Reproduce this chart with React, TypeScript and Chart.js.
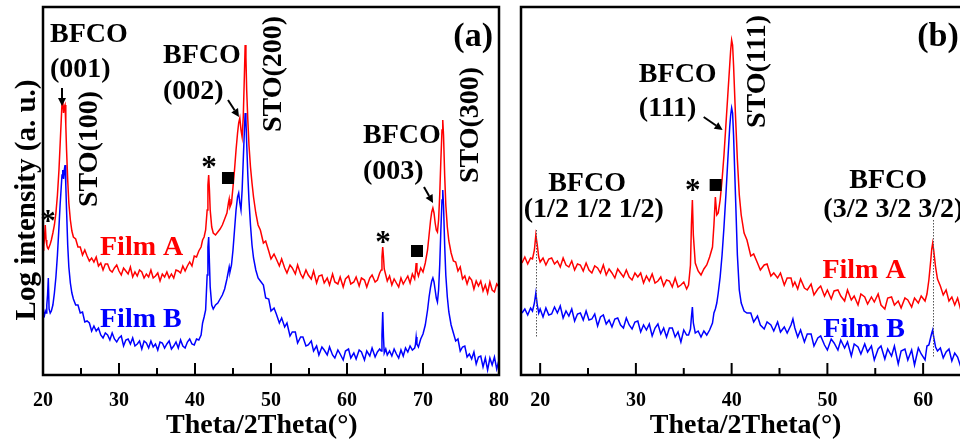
import React, { useEffect, useRef } from "react";
import { Chart, registerables } from "chart.js";
Chart.register(...registerables);

const RED = "rgb(255,0,0)";
const BLUE = "rgb(0,0,255)";
const FONT = '"Liberation Serif", "Times New Roman", serif';

// ---------- Panel (a): 2Theta (deg) ----------
const anglesA = [
  20.0, 20.1, 20.2, 20.3, 20.4, 20.5, 20.6, 20.7, 20.8, 20.95, 21.1,
  21.3, 21.5, 21.7, 21.9, 22.1, 22.25, 22.4, 22.5, 22.6, 22.7, 22.8, 22.9, 23.0, 23.1, 23.25, 23.4, 23.6, 23.8, 24.0,
  24.3, 24.6, 24.9, 25.2, 25.5, 25.8, 26.1, 26.4, 26.7, 27.0, 27.3, 27.6, 27.9, 28.2, 28.5, 28.8, 29.1, 29.4, 29.7, 30.0,
  30.3, 30.6, 30.9, 31.2, 31.5, 31.8, 32.1, 32.4, 32.7, 33.0, 33.3, 33.6, 33.9, 34.2, 34.5, 34.8, 35.1, 35.4, 35.7, 36.0,
  36.3, 36.6, 36.9, 37.2, 37.5, 37.8, 38.1, 38.4, 38.7, 39.0, 39.3, 39.6, 39.9, 40.2, 40.5,
  40.8, 41.0, 41.2, 41.4, 41.6, 41.7, 41.8, 41.9, 42.0, 42.2, 42.4, 42.7, 43.0, 43.3, 43.6, 43.9, 44.2, 44.4, 44.5, 44.6,
  44.8, 45.0, 45.2, 45.4, 45.6, 45.75, 45.9, 46.05, 46.2, 46.35, 46.5, 46.6, 46.7, 46.8, 46.95, 47.1, 47.3, 47.5, 47.7, 48.0, 48.3,
  48.6, 49.0, 49.3, 49.7, 50.0, 50.4, 50.7, 51.1, 51.4, 51.8, 52.1, 52.5, 52.8, 53.2, 53.5, 53.9, 54.2, 54.6, 54.9, 55.3,
  55.6, 56.0, 56.3, 56.7, 57.0, 57.4, 57.7, 58.1, 58.4, 58.8, 59.1, 59.5, 59.8, 60.2, 60.5, 60.9, 61.2, 61.6, 61.9, 62.3,
  62.6, 63.0, 63.3, 63.7, 64.0, 64.3,
  64.5, 64.6, 64.7, 64.8, 64.9, 65.1, 65.3,
  65.6, 65.9, 66.2, 66.5, 66.8, 67.1, 67.4, 67.7, 68.0, 68.3, 68.6, 68.9, 69.0, 69.1, 69.2, 69.4, 69.7, 70.0, 70.3,
  70.6, 70.8, 71.0, 71.15, 71.3, 71.45, 71.6, 71.75, 71.9, 72.05, 72.2, 72.35, 72.5, 72.6, 72.7, 72.85, 73.0, 73.2, 73.4, 73.7, 74.0,
  74.3, 74.6, 74.9, 75.2, 75.5, 75.8, 76.1, 76.4, 76.7, 77.0, 77.3, 77.6, 77.9, 78.2, 78.5, 78.8, 79.1, 79.4, 79.7, 80.0,
];
const filmA_a = [
  125, 128, 138, 150, 135, 130, 127, 126, 128, 131, 135,
  142, 150, 162, 180, 205, 230, 255, 272, 276, 262, 268, 270, 250, 225, 195, 172, 155, 144, 138,
  136, 128, 128, 120, 125, 119, 114, 117, 113, 118, 109, 112, 105, 111, 111, 105, 103, 107, 110, 104,
  100, 107, 104, 101, 108, 98, 103, 99, 105, 103, 97, 101, 98, 105, 97, 99, 102, 94, 101, 98,
  103, 97, 101, 97, 105, 104, 102, 109, 104, 109, 113, 109, 119, 118, 124,
  128, 135, 138, 145, 165, 190, 200, 185, 165, 148, 142, 140, 143, 146, 150, 156, 162, 172, 176, 168,
  172, 188, 205, 225, 242, 252, 257, 245, 238, 258, 300, 330, 318, 285, 255, 230, 208, 192, 178, 162, 150,
  145, 132, 134, 124, 116, 121, 116, 109, 116, 107, 102, 110, 107, 101, 110, 101, 97, 105, 100, 96,
  104, 92, 99, 100, 92, 97, 90, 101, 93, 91, 98, 88, 96, 99, 91, 93, 98, 89, 97, 95,
  88, 97, 100, 93, 95, 102,
  105, 118, 128, 118, 106, 100, 94,
  99, 90, 96, 92, 88, 97, 91, 95, 99, 92, 101, 96, 103, 112, 104, 99, 107, 103, 112,
  125, 140, 155, 163, 167, 162, 152, 145, 143, 155, 180, 215, 245, 255, 240, 200, 170, 148, 134, 122, 114,
  113, 104, 108, 96, 99, 91, 98, 95, 86, 94, 89, 94, 84, 90, 82, 93, 85, 83, 91, 88,
];
const filmB_a = [
  58, 62, 60, 64, 62, 70, 80, 97, 66, 62, 64,
  70, 82, 98, 120, 148, 170, 188, 200, 205, 196, 205, 210, 190, 165, 130, 108, 92, 82, 76,
  70, 70, 62, 63, 53, 54, 52, 44, 49, 44, 47, 40, 37, 42, 40, 35, 42, 36, 33, 37,
  39, 29, 35, 36, 31, 37, 29, 31, 34, 26, 34, 32, 27, 34, 28, 31, 25, 33, 32, 27,
  31, 34, 26, 29, 33, 27, 35, 29, 27, 33, 36, 31, 30, 36, 35,
  40, 52, 58, 65, 100, 128, 138, 112, 88, 70, 66, 70, 72, 76, 80, 86, 96, 104, 108, 103,
  110, 125, 145, 165, 178, 182, 172, 165, 185, 215, 245, 262, 255, 232, 200, 175, 150, 130, 117, 105, 97,
  94, 90, 77, 76, 64, 67, 61, 52, 57, 48, 52, 39, 43, 43, 32, 38, 38, 29, 30, 34,
  24, 29, 20, 28, 25, 20, 28, 20, 17, 25, 21, 15, 24, 26, 17, 22, 16, 25, 23, 15,
  24, 19, 27, 18, 23, 26,
  24, 40, 63, 38, 22, 26, 20,
  24, 19, 26, 21, 17, 25, 19, 27, 23, 29, 25, 27, 30, 38, 31, 28, 36, 41, 50,
  65, 78, 88, 94, 97, 93, 85, 77, 73, 85, 110, 145, 175, 185, 170, 130, 100, 78, 63, 50, 42,
  34, 36, 24, 28, 29, 18, 21, 16, 23, 11, 18, 19, 8, 17, 5, 17, 10, 18, 6, 15,
];

// ---------- Panel (b) ----------
const anglesB = [
  18.1, 18.4, 18.7, 19.0, 19.2, 19.4, 19.55, 19.7, 19.85, 20.0, 20.3, 20.6, 20.9,
  21.2, 21.5, 21.8, 22.1, 22.4, 22.7, 23.0, 23.3, 23.6, 23.9, 24.2, 24.5, 24.8, 25.1, 25.4, 25.7, 26.0, 26.3, 26.6, 26.9,
  27.2, 27.5, 27.8, 28.1, 28.4, 28.7, 29.0, 29.3, 29.6, 29.9, 30.2, 30.5, 30.8, 31.1, 31.4, 31.7, 32.0, 32.3, 32.6, 32.9,
  33.2, 33.5, 33.8, 34.1, 34.4, 34.7, 35.0, 35.3,
  35.5, 35.7, 35.8, 35.9, 36.0, 36.2, 36.5, 36.8, 37.1, 37.4, 37.7, 38.0, 38.15, 38.3, 38.45, 38.6, 38.8, 39.0, 39.2, 39.4,
  39.6, 39.8, 39.9, 40.0, 40.1, 40.2, 40.4, 40.6, 40.8, 41.0, 41.3,
  41.6, 42.0, 42.3, 42.7, 43.0, 43.4, 43.7, 44.1, 44.4, 44.8, 45.1, 45.5, 45.8, 46.2, 46.4, 46.6, 46.9, 47.2, 47.6, 47.9,
  48.3, 48.6, 49.0, 49.3, 49.7, 50.0, 50.4, 50.7, 51.1, 51.4, 51.8, 52.1, 52.5, 52.8, 53.2, 53.5, 53.9, 54.2, 54.6, 54.9,
  55.3, 55.6, 56.0, 56.3, 56.7, 57.0, 57.4, 57.7, 58.1, 58.4, 58.8, 59.1, 59.5, 59.8, 60.2, 60.4,
  60.6, 60.8, 60.9, 61.0, 61.1, 61.3, 61.5, 61.8, 62.1, 62.4, 62.7, 63.0, 63.3, 63.6, 63.9, 64.2, 64.5, 64.8,
];
const filmA_b = [
  112, 118, 111, 117, 116, 125, 140, 130, 118, 113, 117, 110, 116,
  117, 111, 114, 108, 117, 110, 108, 114, 105, 111, 110, 104, 112, 105, 102, 109, 107, 102, 110, 100,
  106, 102, 97, 106, 102, 98, 105, 98, 95, 102, 98, 102, 92, 99, 94, 101, 92, 94, 98, 89,
  95, 94, 88, 97, 88, 90, 93, 86,
  90, 110, 150, 175, 140, 112, 104, 100, 106, 110, 118, 128, 150, 178, 160, 162, 175, 195, 220, 250,
  280, 310, 325, 335, 330, 310, 260, 215, 180, 160, 142,
  135, 119, 121, 112, 105, 110, 111, 99, 102, 97, 102, 90, 97, 97, 89, 93, 86, 96, 87, 85,
  91, 80, 86, 89, 79, 85, 76, 84, 85, 79, 74, 85, 75, 79, 70, 81, 78, 71, 78, 73,
  81, 70, 66, 77, 78, 70, 74, 67, 77, 75, 68, 77, 72, 79, 74, 81,
  95, 115, 126, 132, 125, 108, 96, 89, 80, 85, 74, 78, 70, 77, 66, 73, 68, 72,
];
const filmB_b = [
  62, 66, 60, 67, 64, 72, 82, 70, 62, 66, 58, 67, 60,
  61, 68, 62, 69, 57, 64, 59, 66, 54, 61, 62, 55, 64, 55, 56, 61, 49, 58, 60, 51,
  55, 48, 56, 57, 50, 47, 57, 50, 46, 53, 54, 43, 50, 45, 51, 39, 47, 51, 41, 47,
  38, 47, 47, 38, 43, 33, 45, 40,
  40, 46, 58, 68, 52, 42, 44, 38, 44, 40, 45, 52, 62, 66, 72, 82, 98, 120, 148, 180,
  215, 248, 260, 267, 262, 240, 180, 120, 85, 72, 64,
  62, 62, 53, 59, 50, 46, 53, 50, 44, 53, 43, 48, 42, 50, 56, 47, 38, 45, 33, 41,
  41, 29, 37, 39, 30, 25, 36, 32, 25, 35, 27, 33, 19, 31, 28, 21, 31, 23, 29, 15,
  26, 29, 16, 26, 19, 29, 11, 24, 26, 15, 25, 10, 27, 21, 15, 29,
  30, 38, 42, 45, 38, 28, 24, 27, 17, 23, 26, 14, 22, 18, 9, 21, 13, 19,
];

// ---------- axes ----------
const ticksA = [20, 30, 40, 50, 60, 70, 80];
const minorA = [25, 35, 45, 55, 65, 75];
const ticksB = [20, 30, 40, 50, 60];
const minorB = [25, 35, 45, 55];
const X_TITLE = "Theta/2Theta(°)";
const Y_TITLE = "Log intensity (a. u.)";

// ---------- annotations (anchored in data units) ----------
type Note = { text: string; x: number; y: number; align?: CanvasTextAlign; color?: string; size?: number; rotate?: boolean };
const notesA: Note[] = [
  { text: "BFCO", x: 20.92, y: 333 },
  { text: "(001)", x: 20.92, y: 298 },
  { text: "BFCO", x: 35.79, y: 312 },
  { text: "(002)", x: 35.79, y: 276 },
  { text: "BFCO", x: 62.11, y: 232 },
  { text: "(003)", x: 62.11, y: 196 },
  { text: "STO(100)", x: 27.1, y: 168, rotate: true },
  { text: "STO(200)", x: 51.32, y: 243, rotate: true },
  { text: "STO(300)", x: 77.24, y: 192, rotate: true },
  { text: "(a)", x: 79.21, y: 329, align: "right", size: 34 },
  { text: "Film A", x: 27.5, y: 120, color: RED },
  { text: "Film B", x: 27.5, y: 48, color: BLUE },
];
const starsA = [[20.66, 159], [41.84, 213], [64.74, 138]];
const squaresA = [[44.34, 197], [69.21, 124]];
const arrowsA = [[22.5, 287, 22.5, 269], [44.34, 275, 45.79, 258], [70.13, 188, 71.32, 172]];

const notesB: Note[] = [
  { text: "BFCO", x: 24.9, y: 184, align: "center" },
  { text: "(1/2 1/2 1/2)", x: 25.6, y: 158, align: "center" },
  { text: "BFCO", x: 30.31, y: 293 },
  { text: "(111)", x: 30.31, y: 259 },
  { text: "STO(111)", x: 43.44, y: 247, rotate: true },
  { text: "(b)", x: 59.38, y: 329, size: 34 },
  { text: "BFCO", x: 56.35, y: 187, align: "center" },
  { text: "(3/2 3/2 3/2)", x: 49.58, y: 158 },
  { text: "Film A", x: 49.48, y: 97, color: RED },
  { text: "Film B", x: 49.58, y: 38, color: BLUE },
];
const starsB = [[35.94, 190]];
const squaresB = [[38.33, 190]];
const arrowsB = [[37.08, 258, 39.06, 245]];
const dropsB = [[19.6, 145, 38], [61.0, 155, 18]];

type PanelSpec = {
  ticks: number[]; minor: number[]; notes: Note[]; stars: number[][]; squares: number[][];
  arrows: number[][]; drops: number[][]; titleX: number; yTitle: boolean;
};

function decor(spec: PanelSpec) {
  return {
    id: "decor",
    afterDraw(chart: any) {
      const ctx: CanvasRenderingContext2D = chart.ctx;
      const xs = chart.scales.x, ys = chart.scales.y;
      const { left, right, top, bottom } = chart.chartArea;
      const px = (v: number) => xs.getPixelForValue(v);
      const py = (v: number) => ys.getPixelForValue(v);
      ctx.save();
      // drop lines
      ctx.strokeStyle = "#555";
      ctx.lineWidth = 1;
      ctx.setLineDash([1.5, 1.5]);
      spec.drops.forEach(([x, y1, y2]) => {
        ctx.beginPath();
        ctx.moveTo(Math.round(px(x)) + 0.5, py(y1));
        ctx.lineTo(Math.round(px(x)) + 0.5, py(y2));
        ctx.stroke();
      });
      ctx.setLineDash([]);
      // frame
      ctx.strokeStyle = "#000";
      ctx.lineWidth = 2.5;
      ctx.strokeRect(left, top, right - left, bottom - top);
      // ticks
      ctx.lineWidth = 2;
      spec.ticks.forEach((t) => {
        const x = px(t);
        ctx.beginPath(); ctx.moveTo(x, bottom); ctx.lineTo(x, bottom - 12); ctx.stroke();
      });
      spec.minor.forEach((t) => {
        const x = px(t);
        ctx.beginPath(); ctx.moveTo(x, bottom); ctx.lineTo(x, bottom - 7); ctx.stroke();
      });
      ctx.fillStyle = "#000";
      ctx.font = `bold 20px ${FONT}`;
      ctx.textAlign = "center";
      ctx.textBaseline = "alphabetic";
      spec.ticks.forEach((t) => ctx.fillText(String(t), px(t), bottom + 31));
      ctx.font = `bold 28px ${FONT}`;
      ctx.fillText(X_TITLE, px(spec.titleX), bottom + 58);
      if (spec.yTitle) {
        ctx.save();
        ctx.translate(35, (top + bottom) / 2 + 9);
        ctx.rotate(-Math.PI / 2);
        ctx.font = `bold 29px ${FONT}`;
        ctx.textAlign = "center";
        ctx.fillText(Y_TITLE, 0, 0);
        ctx.restore();
      }
      // notes
      spec.notes.forEach((n) => {
        ctx.save();
        ctx.fillStyle = n.color || "#000";
        ctx.font = `bold ${n.size || 28}px ${FONT}`;
        ctx.textAlign = n.align || "left";
        ctx.translate(px(n.x), py(n.y));
        if (n.rotate) ctx.rotate(-Math.PI / 2);
        ctx.fillText(n.text, 0, 0);
        ctx.restore();
      });
      // stars
      ctx.fillStyle = "#000";
      ctx.font = `bold 31px ${FONT}`;
      ctx.textAlign = "center";
      spec.stars.forEach(([x, y]) => ctx.fillText("*", px(x), py(y) + 15));
      // squares
      spec.squares.forEach(([x, y]) => ctx.fillRect(px(x) - 6, py(y) - 6, 12, 12));
      // arrows
      ctx.lineWidth = 2;
      spec.arrows.forEach(([x1, y1, x2, y2]) => {
        const ax = px(x1), ay = py(y1), bx = px(x2), by = py(y2);
        const ang = Math.atan2(by - ay, bx - ax);
        const hl = 8, hw = 4;
        const cx = bx - hl * Math.cos(ang), cy = by - hl * Math.sin(ang);
        ctx.beginPath(); ctx.moveTo(ax, ay); ctx.lineTo(cx, cy); ctx.stroke();
        ctx.beginPath();
        ctx.moveTo(bx, by);
        ctx.lineTo(cx + hw * Math.sin(ang), cy - hw * Math.cos(ang));
        ctx.lineTo(cx - hw * Math.sin(ang), cy + hw * Math.cos(ang));
        ctx.closePath(); ctx.fill();
      });
      ctx.restore();
    },
  };
}

function makeChart(canvas: HTMLCanvasElement, angles: number[], red: number[], blue: number[],
  min: number, max: number, pad: { left: number; right: number }, spec: PanelSpec) {
  return new Chart(canvas, {
    type: "line",
    data: {
      datasets: [
        { data: angles.map((x, i) => ({ x, y: red[i] })), borderColor: RED, borderWidth: 1.5, pointRadius: 0, tension: 0 },
        { data: angles.map((x, i) => ({ x, y: blue[i] })), borderColor: BLUE, borderWidth: 1.5, pointRadius: 0, tension: 0 },
      ],
    },
    options: {
      responsive: false,
      animation: false,
      layout: { padding: { left: pad.left, right: pad.right, top: 7, bottom: 70 } },
      scales: {
        x: { type: "linear", min, max, display: false },
        y: { min: 0, max: 368, display: false },
      },
      plugins: { legend: { display: false }, tooltip: { enabled: false } },
    },
    plugins: [decor(spec)],
  } as any);
}

export default function App() {
  const refA = useRef<HTMLCanvasElement>(null);
  const refB = useRef<HTMLCanvasElement>(null);
  useEffect(() => {
    const a = makeChart(refA.current!, anglesA, filmA_a, filmB_a, 20, 80, { left: 43, right: 11 }, {
      ticks: ticksA, minor: minorA, notes: notesA, stars: starsA, squares: squaresA, arrows: arrowsA, drops: [], titleX: 48.8, yTitle: true,
    });
    const b = makeChart(refB.current!, anglesB, filmA_b, filmB_b, 18, 65, { left: 11, right: 19 }, {
      ticks: ticksB, minor: minorB, notes: notesB, stars: starsB, squares: squaresB, arrows: arrowsB, drops: dropsB, titleX: 41.46, yTitle: false,
    });
    return () => { a.destroy(); b.destroy(); };
  }, []);
  return (
    <div style={{ position: "fixed", left: 0, top: 0, width: 960, height: 445, overflow: "hidden", background: "#fff" }}>
      <canvas ref={refA} width={510} height={445} style={{ position: "absolute", left: 0, top: 0 }} />
      <canvas ref={refB} width={480} height={445} style={{ position: "absolute", left: 510, top: 0 }} />
    </div>
  );
}
